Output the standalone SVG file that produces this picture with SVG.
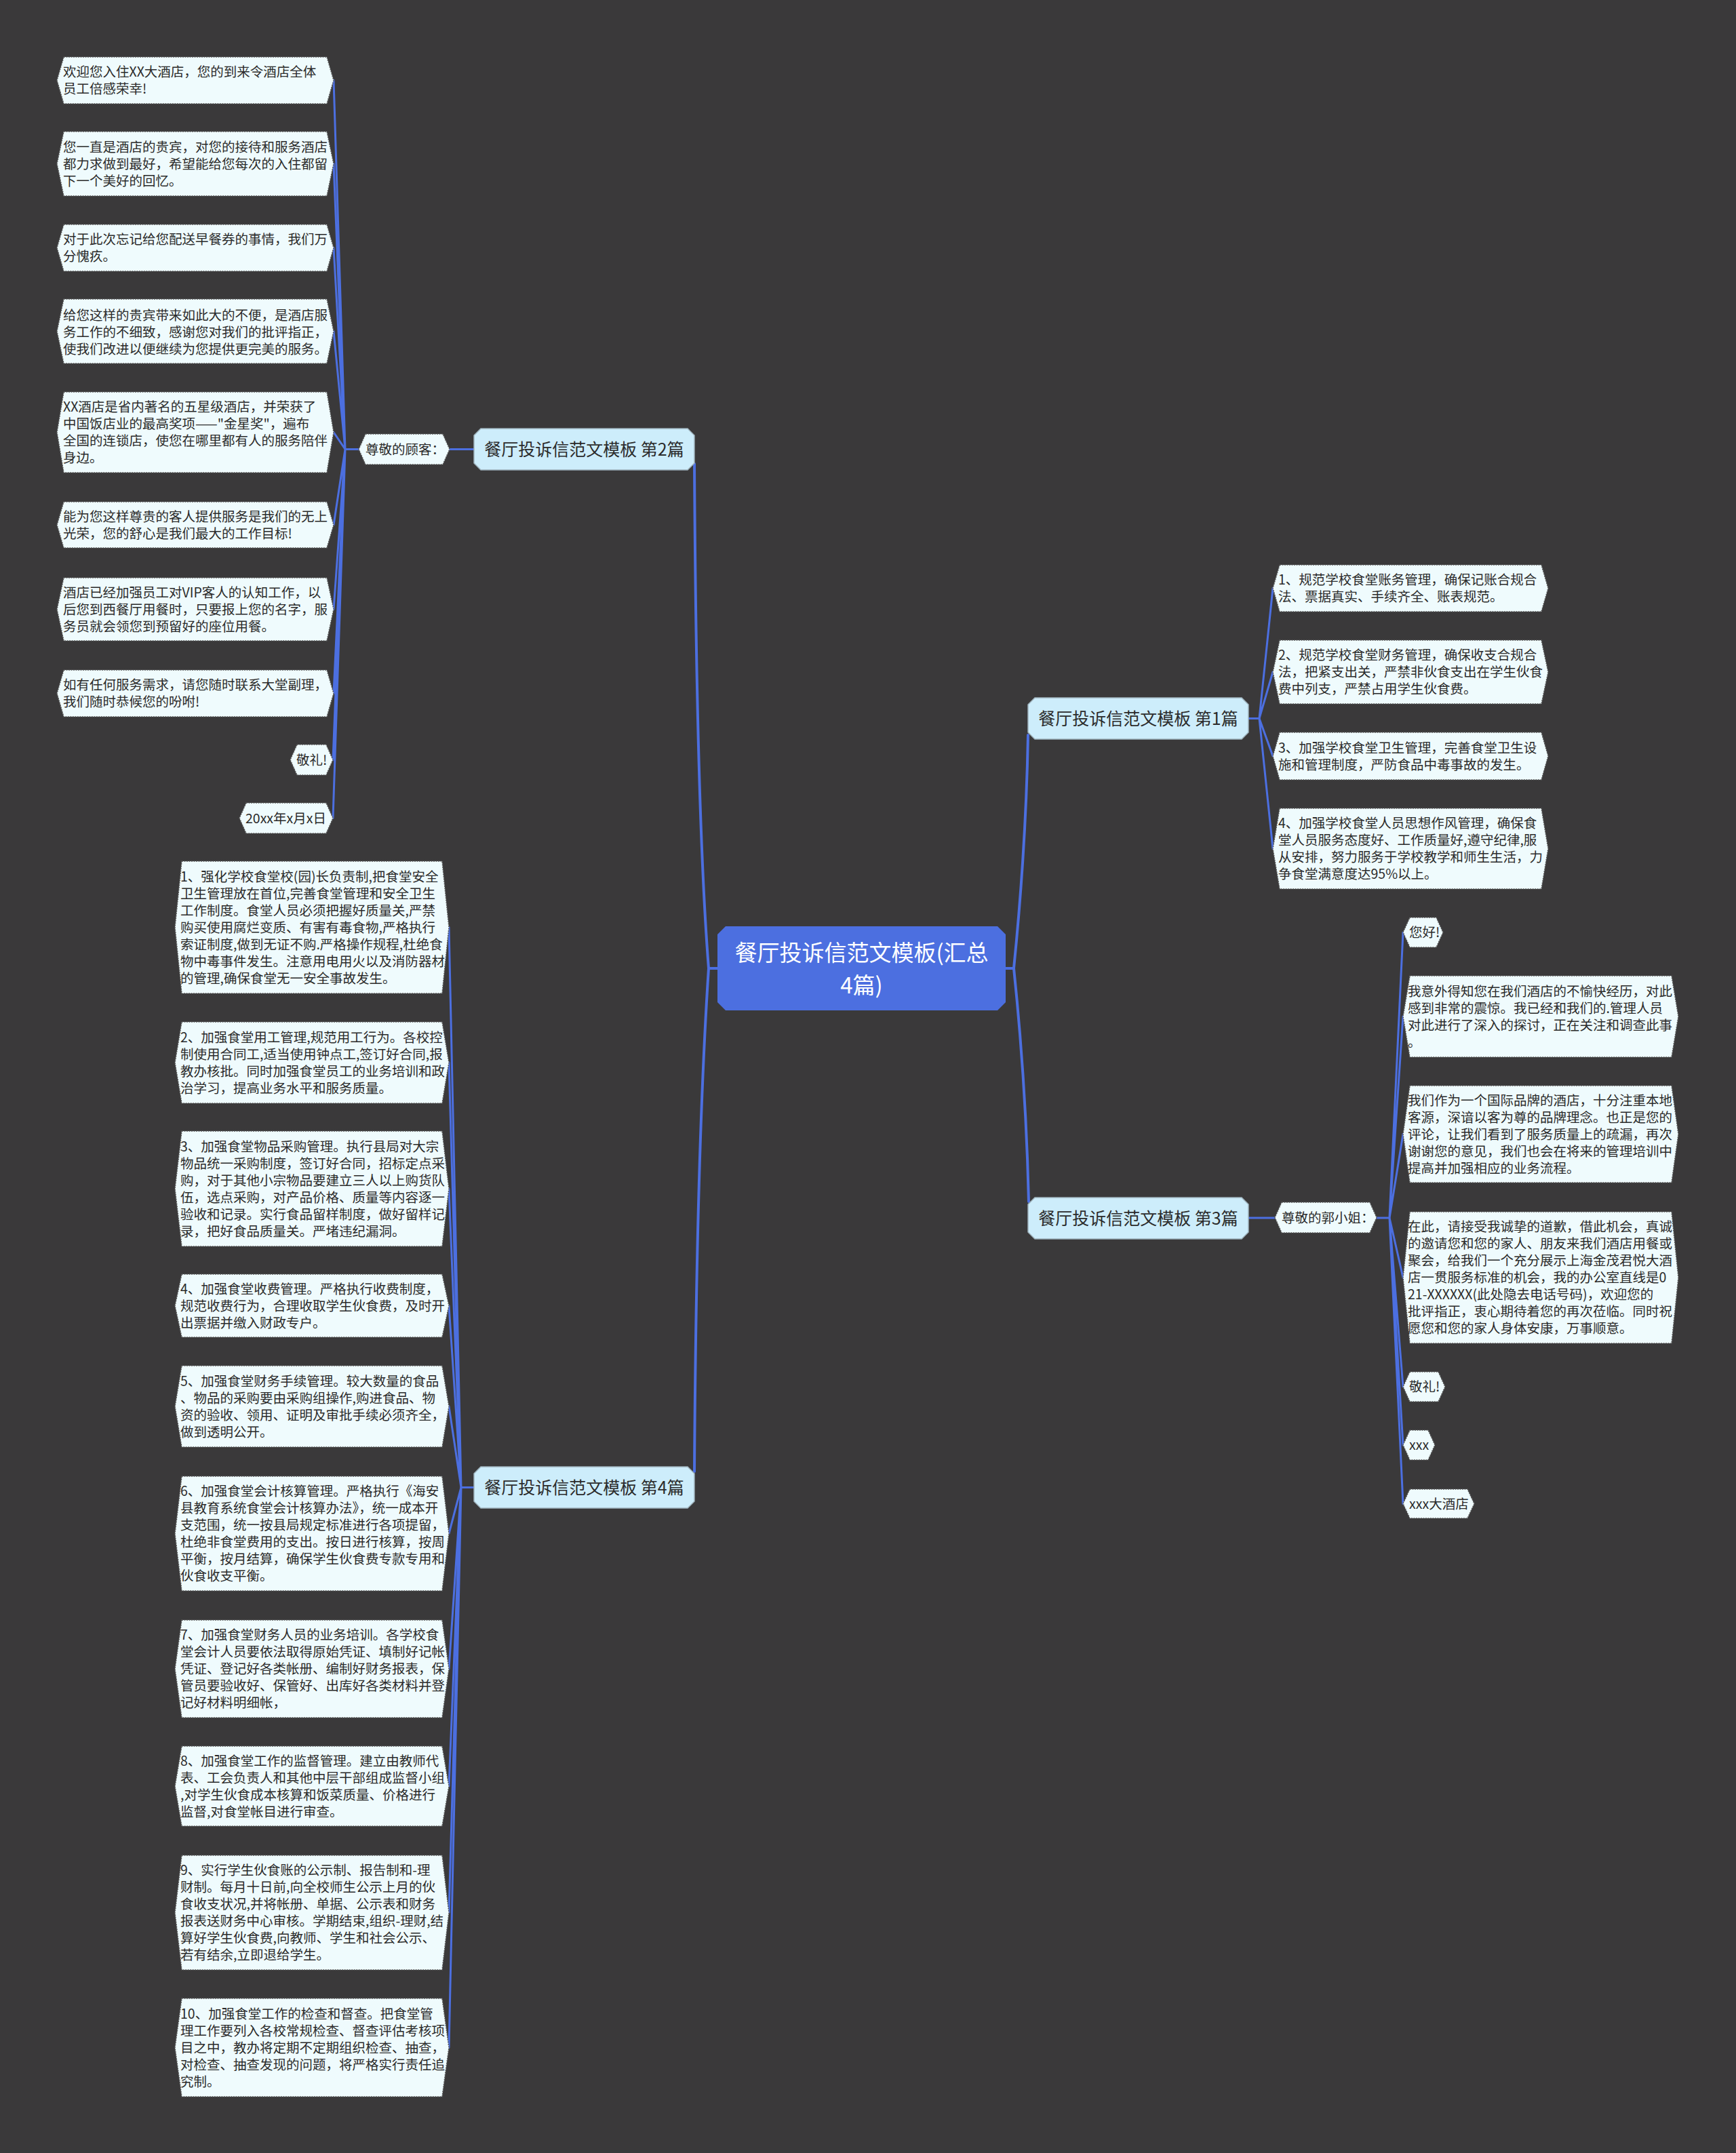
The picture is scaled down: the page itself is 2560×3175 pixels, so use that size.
<svg xmlns="http://www.w3.org/2000/svg" width="2560" height="3175" viewBox="0 0 2560 3175">
<style>
.bg{fill:#3a393a}
.ln{fill:none;stroke:#4c6fe0;stroke-width:3;stroke-linecap:round}
.lm{fill:none;stroke:#4c6fe0;stroke-width:4;stroke-linecap:round}
.leaf{fill:#effbfd;stroke:#555;stroke-width:1.5;stroke-dasharray:2 1.5}
.br{fill:#cdedfb;stroke:#9fb3bd;stroke-width:1.5}
.root{fill:#4c6fe0}
.t{font-family:'Noto Sans CJK SC','Noto Sans',sans-serif;font-size:19.5px;fill:#2b2b2b}
.tb{font-family:'Noto Sans CJK SC','Noto Sans',sans-serif;font-size:25px;fill:#2b2b2b;text-anchor:middle}
.tr{font-family:'Noto Sans CJK SC','Noto Sans',sans-serif;font-size:33px;fill:#ffffff;text-anchor:middle}
</style>
<rect class="bg" x="0" y="0" width="2560" height="3175"/>
<g id="connectors">
<path class="lm" d="M1058 1428 L1045 1428 Q1027 1200 1024 684"/>
<path class="lm" d="M1045 1428 Q1027 1700 1024 2170"/>
<path class="lm" d="M1483 1428 L1495 1428 Q1513 1250 1516 1084"/>
<path class="lm" d="M1495 1428 Q1513 1600 1517 1772"/>
<path class="ln" d="M699 662.5 L663 662.5"/>
<path class="ln" d="M529 662.5 L509 662.5"/>
<path class="ln" d="M509 662.5 L492 118.5 M509 662.5 L492 241.5 M509 662.5 L492 365.5 M509 662.5 L492 488.5 M509 662.5 L492 637.5 M509 662.5 L492 774 M509 662.5 L492 898.5 M509 662.5 L492 1022.5 M509 662.5 L491 1120.5 M509 662.5 L491 1206.5"/>
<path class="ln" d="M699 2193.5 L680 2193.5"/>
<path class="ln" d="M680 2193.5 L662 1367.5 M680 2193.5 L662 1567 M680 2193.5 L662 1753 M680 2193.5 L662 1925.5 M680 2193.5 L662 2074 M680 2193.5 L662 2261.5 M680 2193.5 L662 2461 M680 2193.5 L662 2634 M680 2193.5 L662 2820.5 M680 2193.5 L662 3019.5"/>
<path class="ln" d="M1841 1059.5 L1857 1059.5"/>
<path class="ln" d="M1857 1059.5 L1877 867.5 M1857 1059.5 L1877 991 M1857 1059.5 L1877 1115 M1857 1059.5 L1877 1251.5"/>
<path class="ln" d="M1841 1796 L1880 1796"/>
<path class="ln" d="M2030 1796 L2049 1796"/>
<path class="ln" d="M2049 1796 L2069 1375 M2049 1796 L2069 1499 M2049 1796 L2069 1672.5 M2049 1796 L2069 1884 M2049 1796 L2069 2045 M2049 1796 L2069 2131 M2049 1796 L2069 2217.5"/>
</g>
<g id="root">
<polygon class="root" points="1070,1366 1471,1366 1483,1378 1483,1478 1471,1490 1070,1490 1058,1478 1058,1378"/>
<text class="tr" x="1270.5" y="1416.5">餐厅投诉信范文模板(汇总</text>
<text class="tr" x="1270.5" y="1464.5">4篇)</text>
</g>
<g id="b2">
<polygon class="br" points="709,632 1014,632 1024,642 1024,683 1014,693 709,693 699,683 699,642"/>
<text class="tb" x="861.5" y="671.5">餐厅投诉信范文模板 第2篇</text>
</g>
<g id="b4">
<polygon class="br" points="709,2163 1014,2163 1024,2173 1024,2214 1014,2224 709,2224 699,2214 699,2173"/>
<text class="tb" x="861.5" y="2202.5">餐厅投诉信范文模板 第4篇</text>
</g>
<g id="b1">
<polygon class="br" points="1526,1029 1831,1029 1841,1039 1841,1080 1831,1090 1526,1090 1516,1080 1516,1039"/>
<text class="tb" x="1678.5" y="1068.5">餐厅投诉信范文模板 第1篇</text>
</g>
<g id="b3">
<polygon class="br" points="1526,1766 1831,1766 1841,1776 1841,1817 1831,1827 1526,1827 1516,1817 1516,1776"/>
<text class="tb" x="1678.5" y="1805.5">餐厅投诉信范文模板 第3篇</text>
</g>
<g id="s2">
<polygon class="leaf" points="539,640 653,640 663,662.5 653,685 539,685 529,662.5"/>
<text class="t" x="539" y="669.5">尊敬的顾客：</text>
</g>
<g id="s3">
<polygon class="leaf" points="1890,1773 2020,1773 2030,1795.5 2020,1818 1890,1818 1880,1795.5"/>
<text class="t" x="1890" y="1802.5">尊敬的郭小姐：</text>
</g>
<g id="l2-1">
<polygon class="leaf" points="94,84 482,84 492,118.5 482,153 94,153 84,118.5"/>
<text class="t" x="93" y="113"><tspan x="93">欢迎您入住XX大酒店，您的到来令酒店全体</tspan><tspan x="93" dy="25">员工倍感荣幸!</tspan></text>
</g>
<g id="l2-2">
<polygon class="leaf" points="94,194 482,194 492,241.5 482,289 94,289 84,241.5"/>
<text class="t" x="93" y="223.5"><tspan x="93">您一直是酒店的贵宾，对您的接待和服务酒店</tspan><tspan x="93" dy="25">都力求做到最好，希望能给您每次的入住都留</tspan><tspan x="93" dy="25">下一个美好的回忆。</tspan></text>
</g>
<g id="l2-3">
<polygon class="leaf" points="94,331 482,331 492,365.5 482,400 94,400 84,365.5"/>
<text class="t" x="93" y="360"><tspan x="93">对于此次忘记给您配送早餐券的事情，我们万</tspan><tspan x="93" dy="25">分愧疚。</tspan></text>
</g>
<g id="l2-4">
<polygon class="leaf" points="94,441 482,441 492,488.5 482,536 94,536 84,488.5"/>
<text class="t" x="93" y="472"><tspan x="93">给您这样的贵宾带来如此大的不便，是酒店服</tspan><tspan x="93" dy="25">务工作的不细致，感谢您对我们的批评指正，</tspan><tspan x="93" dy="25">使我们改进以便继续为您提供更完美的服务。</tspan></text>
</g>
<g id="l2-5">
<polygon class="leaf" points="94,578 482,578 492,637.5 482,697 94,697 84,637.5"/>
<text class="t" x="93" y="607"><tspan x="93">XX酒店是省内著名的五星级酒店，并荣获了</tspan><tspan x="93" dy="25">中国饭店业的最高奖项——"金星奖"，遍布</tspan><tspan x="93" dy="25">全国的连锁店，使您在哪里都有人的服务陪伴</tspan><tspan x="93" dy="25">身边。</tspan></text>
</g>
<g id="l2-6">
<polygon class="leaf" points="94,740 482,740 492,774 482,808 94,808 84,774"/>
<text class="t" x="93" y="768.5"><tspan x="93">能为您这样尊贵的客人提供服务是我们的无上</tspan><tspan x="93" dy="25">光荣，您的舒心是我们最大的工作目标!</tspan></text>
</g>
<g id="l2-7">
<polygon class="leaf" points="94,852 482,852 492,898.5 482,945 94,945 84,898.5"/>
<text class="t" x="93" y="880.5"><tspan x="93">酒店已经加强员工对VIP客人的认知工作，以</tspan><tspan x="93" dy="25">后您到西餐厅用餐时，只要报上您的名字，服</tspan><tspan x="93" dy="25">务员就会领您到预留好的座位用餐。</tspan></text>
</g>
<g id="l2-8">
<polygon class="leaf" points="94,988 482,988 492,1022.5 482,1057 94,1057 84,1022.5"/>
<text class="t" x="93" y="1017"><tspan x="93">如有任何服务需求，请您随时联系大堂副理，</tspan><tspan x="93" dy="25">我们随时恭候您的吩咐!</tspan></text>
</g>
<g id="l2-9">
<polygon class="leaf" points="438,1098 481,1098 491,1120.5 481,1143 438,1143 428,1120.5"/>
<text class="t" x="437" y="1127.5">敬礼!</text>
</g>
<g id="l2-10">
<polygon class="leaf" points="363,1184 481,1184 491,1206.5 481,1229 363,1229 353,1206.5"/>
<text class="t" x="362" y="1213.5">20xx年x月x日</text>
</g>
<g id="l1-1">
<polygon class="leaf" points="1887,833 2273,833 2283,867.5 2273,902 1887,902 1877,867.5"/>
<text class="t" x="1885" y="862"><tspan x="1885">1、规范学校食堂账务管理，确保记账合规合</tspan><tspan x="1885" dy="25">法、票据真实、手续齐全、账表规范。</tspan></text>
</g>
<g id="l1-2">
<polygon class="leaf" points="1887,944 2273,944 2283,991 2273,1038 1887,1038 1877,991"/>
<text class="t" x="1885" y="973"><tspan x="1885">2、规范学校食堂财务管理，确保收支合规合</tspan><tspan x="1885" dy="25">法，把紧支出关，严禁非伙食支出在学生伙食</tspan><tspan x="1885" dy="25">费中列支，严禁占用学生伙食费。</tspan></text>
</g>
<g id="l1-3">
<polygon class="leaf" points="1887,1080 2273,1080 2283,1115 2273,1150 1887,1150 1877,1115"/>
<text class="t" x="1885" y="1109.5"><tspan x="1885">3、加强学校食堂卫生管理，完善食堂卫生设</tspan><tspan x="1885" dy="25">施和管理制度，严防食品中毒事故的发生。</tspan></text>
</g>
<g id="l1-4">
<polygon class="leaf" points="1887,1192 2273,1192 2283,1251.5 2273,1311 1887,1311 1877,1251.5"/>
<text class="t" x="1885" y="1221"><tspan x="1885">4、加强学校食堂人员思想作风管理，确保食</tspan><tspan x="1885" dy="25">堂人员服务态度好、工作质量好,遵守纪律,服</tspan><tspan x="1885" dy="25">从安排，努力服务于学校教学和师生生活，力</tspan><tspan x="1885" dy="25">争食堂满意度达95%以上。</tspan></text>
</g>
<g id="l3-1">
<polygon class="leaf" points="2079,1353 2118,1353 2128,1375 2118,1397 2079,1397 2069,1375"/>
<text class="t" x="2078" y="1382">您好!</text>
</g>
<g id="l3-2">
<polygon class="leaf" points="2079,1439 2465,1439 2475,1499 2465,1559 2079,1559 2069,1499"/>
<text class="t" x="2076" y="1468.5"><tspan x="2076">我意外得知您在我们酒店的不愉快经历，对此</tspan><tspan x="2076" dy="25">感到非常的震惊。我已经和我们的.管理人员</tspan><tspan x="2076" dy="25">对此进行了深入的探讨，正在关注和调查此事</tspan><tspan x="2076" dy="25">。</tspan></text>
</g>
<g id="l3-3">
<polygon class="leaf" points="2079,1601 2465,1601 2475,1672.5 2465,1744 2079,1744 2069,1672.5"/>
<text class="t" x="2076" y="1629.5"><tspan x="2076">我们作为一个国际品牌的酒店，十分注重本地</tspan><tspan x="2076" dy="25">客源，深谙以客为尊的品牌理念。也正是您的</tspan><tspan x="2076" dy="25">评论，让我们看到了服务质量上的疏漏，再次</tspan><tspan x="2076" dy="25">谢谢您的意见，我们也会在将来的管理培训中</tspan><tspan x="2076" dy="25">提高并加强相应的业务流程。</tspan></text>
</g>
<g id="l3-4">
<polygon class="leaf" points="2079,1787 2465,1787 2475,1884 2465,1981 2079,1981 2069,1884"/>
<text class="t" x="2076" y="1816"><tspan x="2076">在此，请接受我诚挚的道歉，借此机会，真诚</tspan><tspan x="2076" dy="25">的邀请您和您的家人、朋友来我们酒店用餐或</tspan><tspan x="2076" dy="25">聚会，给我们一个充分展示上海金茂君悦大酒</tspan><tspan x="2076" dy="25">店一贯服务标准的机会，我的办公室直线是0</tspan><tspan x="2076" dy="25">21-XXXXXX(此处隐去电话号码)，欢迎您的</tspan><tspan x="2076" dy="25">批评指正，衷心期待着您的再次莅临。同时祝</tspan><tspan x="2076" dy="25">愿您和您的家人身体安康，万事顺意。</tspan></text>
</g>
<g id="l3-5">
<polygon class="leaf" points="2079,2023 2121,2023 2131,2045 2121,2067 2079,2067 2069,2045"/>
<text class="t" x="2078" y="2052">敬礼!</text>
</g>
<g id="l3-6">
<polygon class="leaf" points="2079,2109 2106,2109 2116,2131 2106,2153 2079,2153 2069,2131"/>
<text class="t" x="2078" y="2138">xxx</text>
</g>
<g id="l3-7">
<polygon class="leaf" points="2079,2196 2164,2196 2174,2217.5 2164,2239 2079,2239 2069,2217.5"/>
<text class="t" x="2078" y="2224.5">xxx大酒店</text>
</g>
<g id="l4-1">
<polygon class="leaf" points="268,1270 652,1270 662,1367.5 652,1465 268,1465 258,1367.5"/>
<text class="t" x="266" y="1299.5"><tspan x="266">1、强化学校食堂校(园)长负责制,把食堂安全</tspan><tspan x="266" dy="25">卫生管理放在首位,完善食堂管理和安全卫生</tspan><tspan x="266" dy="25">工作制度。食堂人员必须把握好质量关,严禁</tspan><tspan x="266" dy="25">购买使用腐烂变质、有害有毒食物,严格执行</tspan><tspan x="266" dy="25">索证制度,做到无证不购.严格操作规程,杜绝食</tspan><tspan x="266" dy="25">物中毒事件发生。注意用电用火以及消防器材</tspan><tspan x="266" dy="25">的管理,确保食堂无一安全事故发生。</tspan></text>
</g>
<g id="l4-2">
<polygon class="leaf" points="268,1507 652,1507 662,1567 652,1627 268,1627 258,1567"/>
<text class="t" x="266" y="1536.5"><tspan x="266">2、加强食堂用工管理,规范用工行为。各校控</tspan><tspan x="266" dy="25">制使用合同工,适当使用钟点工,签订好合同,报</tspan><tspan x="266" dy="25">教办核批。同时加强食堂员工的业务培训和政</tspan><tspan x="266" dy="25">治学习，提高业务水平和服务质量。</tspan></text>
</g>
<g id="l4-3">
<polygon class="leaf" points="268,1668 652,1668 662,1753 652,1838 268,1838 258,1753"/>
<text class="t" x="266" y="1697.5"><tspan x="266">3、加强食堂物品采购管理。执行县局对大宗</tspan><tspan x="266" dy="25">物品统一采购制度，签订好合同，招标定点采</tspan><tspan x="266" dy="25">购，对于其他小宗物品要建立三人以上购货队</tspan><tspan x="266" dy="25">伍，选点采购，对产品价格、质量等内容逐一</tspan><tspan x="266" dy="25">验收和记录。实行食品留样制度，做好留样记</tspan><tspan x="266" dy="25">录，把好食品质量关。严堵违纪漏洞。</tspan></text>
</g>
<g id="l4-4">
<polygon class="leaf" points="268,1879 652,1879 662,1925.5 652,1972 268,1972 258,1925.5"/>
<text class="t" x="266" y="1907.5"><tspan x="266">4、加强食堂收费管理。严格执行收费制度，</tspan><tspan x="266" dy="25">规范收费行为，合理收取学生伙食费，及时开</tspan><tspan x="266" dy="25">出票据并缴入财政专户。</tspan></text>
</g>
<g id="l4-5">
<polygon class="leaf" points="268,2014 652,2014 662,2074 652,2134 268,2134 258,2074"/>
<text class="t" x="266" y="2043.5"><tspan x="266">5、加强食堂财务手续管理。较大数量的食品</tspan><tspan x="266" dy="25">、物品的采购要由采购组操作,购进食品、物</tspan><tspan x="266" dy="25">资的验收、领用、证明及审批手续必须齐全，</tspan><tspan x="266" dy="25">做到透明公开。</tspan></text>
</g>
<g id="l4-6">
<polygon class="leaf" points="268,2177 652,2177 662,2261.5 652,2346 268,2346 258,2261.5"/>
<text class="t" x="266" y="2206"><tspan x="266">6、加强食堂会计核算管理。严格执行《海安</tspan><tspan x="266" dy="25">县教育系统食堂会计核算办法》，统一成本开</tspan><tspan x="266" dy="25">支范围，统一按县局规定标准进行各项提留，</tspan><tspan x="266" dy="25">杜绝非食堂费用的支出。按日进行核算，按周</tspan><tspan x="266" dy="25">平衡，按月结算，确保学生伙食费专款专用和</tspan><tspan x="266" dy="25">伙食收支平衡。</tspan></text>
</g>
<g id="l4-7">
<polygon class="leaf" points="268,2389 652,2389 662,2461 652,2533 268,2533 258,2461"/>
<text class="t" x="266" y="2418"><tspan x="266">7、加强食堂财务人员的业务培训。各学校食</tspan><tspan x="266" dy="25">堂会计人员要依法取得原始凭证、填制好记帐</tspan><tspan x="266" dy="25">凭证、登记好各类帐册、编制好财务报表，保</tspan><tspan x="266" dy="25">管员要验收好、保管好、出库好各类材料并登</tspan><tspan x="266" dy="25">记好材料明细帐，</tspan></text>
</g>
<g id="l4-8">
<polygon class="leaf" points="268,2575 652,2575 662,2634 652,2693 268,2693 258,2634"/>
<text class="t" x="266" y="2603.5"><tspan x="266">8、加强食堂工作的监督管理。建立由教师代</tspan><tspan x="266" dy="25">表、工会负责人和其他中层干部组成监督小组</tspan><tspan x="266" dy="25">,对学生伙食成本核算和饭菜质量、价格进行</tspan><tspan x="266" dy="25">监督,对食堂帐目进行审查。</tspan></text>
</g>
<g id="l4-9">
<polygon class="leaf" points="268,2736 652,2736 662,2820.5 652,2905 268,2905 258,2820.5"/>
<text class="t" x="266" y="2765"><tspan x="266">9、实行学生伙食账的公示制、报告制和-理</tspan><tspan x="266" dy="25">财制。每月十日前,向全校师生公示上月的伙</tspan><tspan x="266" dy="25">食收支状况,并将帐册、单据、公示表和财务</tspan><tspan x="266" dy="25">报表送财务中心审核。学期结束,组织-理财,结</tspan><tspan x="266" dy="25">算好学生伙食费,向教师、学生和社会公示、</tspan><tspan x="266" dy="25">若有结余,立即退给学生。</tspan></text>
</g>
<g id="l4-10">
<polygon class="leaf" points="268,2947 652,2947 662,3019.5 652,3092 268,3092 258,3019.5"/>
<text class="t" x="266" y="2976.5"><tspan x="266">10、加强食堂工作的检查和督查。把食堂管</tspan><tspan x="266" dy="25">理工作要列入各校常规检查、督查评估考核项</tspan><tspan x="266" dy="25">目之中，教办将定期不定期组织检查、抽查，</tspan><tspan x="266" dy="25">对检查、抽查发现的问题，将严格实行责任追</tspan><tspan x="266" dy="25">究制。</tspan></text>
</g>
</svg>
